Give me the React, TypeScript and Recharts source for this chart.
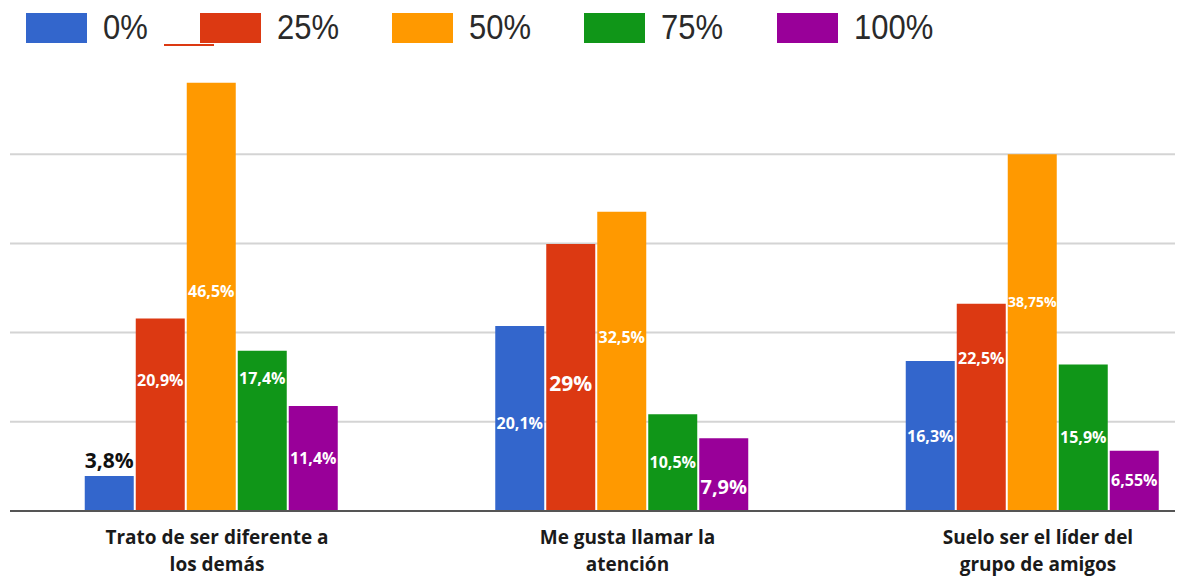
import React from 'react';
import { BarChart, Bar, XAxis, YAxis, CartesianGrid, Legend, LabelList } from 'recharts';

const categories = [
  'Trato de ser diferente a\nlos demás',
  'Me gusta llamar la\natención',
  'Suelo ser el líder del\ngrupo de amigos',
];
const seriesNames = ['0%', '25%', '50%', '75%', '100%'];
const pct0 = [3.8, 20.1, 16.3];
const pct25 = [20.9, 29, 22.5];
const pct50 = [46.5, 32.5, 38.75];
const pct75 = [17.4, 10.5, 15.9];
const pct100 = [11.4, 7.9, 6.55];
const gridTicks = [0, 9.69, 19.38, 29.06, 38.75];

const series = [pct0, pct25, pct50, pct75, pct100];
const COLORS = ['#3366cc', '#dc3912', '#ff9900', '#109618', '#990099'];
const LEGEND_LEFT = [26, 200, 392, 584, 777];

const chartData = categories.map((name, i) => {
  const row: Record<string, string | number> = { name };
  series.forEach((vals, s) => { row['s' + s] = vals[i]; });
  return row;
});

// label placement tweaks (px from bar middle), per series then category
const labelDy = [
  [0, 5, 0],
  [-34, 6, -49],
  [-6, -24, -30],
  [-52, 0, 0],
  [0, 12, 0],
];
const labelSize: Record<string, number> = { '0-0': 21, '1-1': 21, '4-1': 20, '2-2': 14 };

const fmt = (v: number) => String(v).replace('.', ',') + '%';

const makeLabel = (s: number) => (props: any) => {
  const { x, y, width, height, value, index } = props;
  const key = s + '-' + index;
  const size = labelSize[key] || 16;
  const cx = Number(x) + Number(width) / 2;
  if (key === '0-0') {
    return (
      <text x={cx} y={Number(y) - 8} textAnchor="middle" fill="#111" fontSize={size}
        fontWeight={700} fontFamily="'Open Sans', sans-serif">{fmt(value)}</text>
    );
  }
  const cy = Number(y) + Number(height) / 2 + labelDy[s][index];
  return (
    <text x={cx} y={cy} dy="0.35em" textAnchor="middle" fill="#fff" fontSize={size}
      fontWeight={700} fontFamily="'Open Sans', sans-serif">{fmt(value)}</text>
  );
};

const CategoryTick = (props: any) => {
  const { x, y, payload } = props;
  const lines = String(payload.value).split('\n');
  return (
    <text x={Number(x) + 6} y={Number(y)} textAnchor="middle" fill="#1a1a1a" fontSize={19}
      fontWeight={700} fontFamily="'Open Sans', sans-serif">
      {lines.map((l, i) => (
        <tspan key={i} x={Number(x) + 6} dy={i === 0 ? 33 : 27}>{l}</tspan>
      ))}
    </text>
  );
};

const LegendBox = () => (
  <div style={{ position: 'relative', width: 1185, height: 56 }}>
    <div style={{ position: 'absolute', left: 164, top: 44, width: 50, height: 2, background: '#dc3912' }} />
    {seriesNames.map((n, i) => {
      const left = LEGEND_LEFT[i];
      return (
        <React.Fragment key={n}>
          <div style={{ position: 'absolute', left, top: 13, width: 61, height: 30, background: COLORS[i] }} />
          <div style={{
            position: 'absolute', left: left + 77, top: 8, height: 40, lineHeight: '40px',
            fontFamily: "'Liberation Sans', Arial, sans-serif", fontSize: 31, color: '#2a2a2a',
            transform: 'scaleY(1.12)',
          }}>{n}</div>
        </React.Fragment>
      );
    })}
  </div>
);

export default function App() {
  return (
    <div style={{ width: 1185, height: 579, background: '#fff' }}>
      <style>{'body{margin:0}'}</style>
      <BarChart width={1185} height={579} data={chartData}
        margin={{ top: 13, right: 10, left: 10, bottom: 0 }}
        barGap={2} barCategoryGap={78}>
        <Legend verticalAlign="top" content={<LegendBox />}
          wrapperStyle={{ top: 0, left: 0, width: 1185, height: 56 }} />
        <CartesianGrid vertical={false} stroke="#d4d4d4" strokeWidth={2} syncWithTicks />
        <XAxis dataKey="name" height={68} tickLine={false} tickSize={0} tickMargin={0}
          axisLine={{ stroke: '#555', strokeWidth: 2 }} tick={<CategoryTick />}
          padding={{ left: -4.25, right: -62.25 }} interval={0} />
        <YAxis hide domain={[0, 48]} ticks={gridTicks} />
        {series.map((_, s) => (
          <Bar key={s} dataKey={'s' + s} name={seriesNames[s]} fill={COLORS[s]}
            barSize={49} isAnimationActive={false}>
            <LabelList dataKey={'s' + s} content={makeLabel(s)} />
          </Bar>
        ))}
      </BarChart>
    </div>
  );
}
